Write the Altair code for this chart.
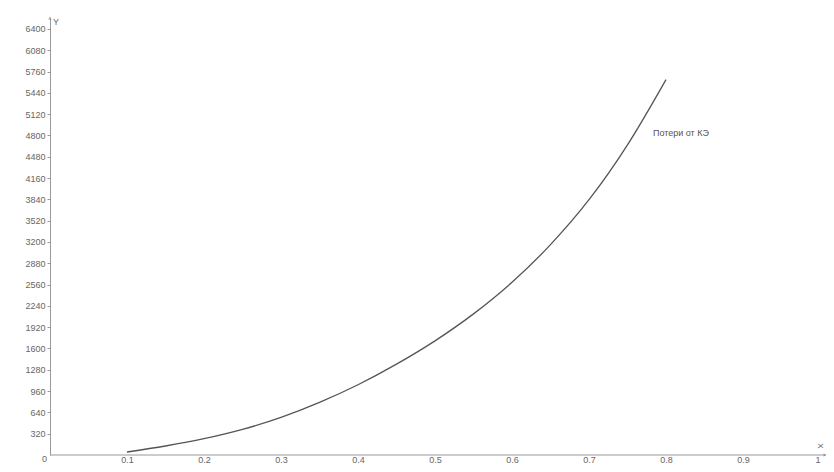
import altair as alt
import pandas as pd

# Curve: losses vs load factor
x_vals = [0.1, 0.15, 0.2, 0.25, 0.3, 0.35, 0.4, 0.45, 0.5, 0.55, 0.6, 0.65, 0.7, 0.75, 0.8]
y_vals = [45, 135, 245, 385, 565, 790, 1055, 1365, 1715, 2120, 2595, 3160, 3835, 4660, 5640]

x_ticks = [0.1, 0.2, 0.3, 0.4, 0.5, 0.6, 0.7, 0.8, 0.9, 1]
y_ticks = [320, 640, 960, 1280, 1600, 1920, 2240, 2560, 2880, 3200, 3520, 3840,
           4160, 4480, 4800, 5120, 5440, 5760, 6080, 6400]

series_label = "Потери от КЭ"
label_pos = {"x": [0.783], "y": [4840], "t": [series_label]}

curve = pd.DataFrame({"x": x_vals, "y": y_vals})

Y_TOP = 6565
X_DOM = [0, 1.0]
Y_DOM = [0, Y_TOP]
FONT = "Liberation Sans"
W, H = 770, 437

xs = alt.Scale(domain=X_DOM, nice=False, zero=False)
ys = alt.Scale(domain=Y_DOM, nice=False, zero=False)

x_axis = alt.Axis(values=x_ticks, title=None, grid=False, ticks=False,
                  domain=False, labelOverlap=False, labelBaseline="middle",
                  labelExpr="datum.value == 1 ? '1' : format(datum.value, '.1f')",
                  labelPadding=4)
y_axis = alt.Axis(values=y_ticks, title=None, grid=False, tickSize=3,
                  labelOverlap=False, format="d", labelPadding=2)

def X():
    return alt.X("x:Q", scale=xs, axis=x_axis)

def Y():
    return alt.Y("y:Q", scale=ys, axis=y_axis)

line = alt.Chart(curve).mark_line(color="#555555", strokeWidth=1.3,
                                  interpolate="monotone").encode(x=X(), y=Y())

# x axis line, extended a little past x = 1 (as in the reference)
xaxis_line = alt.Chart(pd.DataFrame({"y": [0]})).mark_rule(
    color="#999999", strokeWidth=1
).encode(x=alt.value(0), x2=alt.value(W + 6), y=Y())

lbl = alt.Chart(pd.DataFrame(label_pos)).mark_text(
    align="left", baseline="middle", fontSize=9, font=FONT, color="#555555"
).encode(x=X(), y=Y(), text="t:N")

origin = alt.Chart(pd.DataFrame({"x": [0], "y": [0], "t": ["0"]})).mark_text(
    align="right", baseline="middle", dx=-3, dy=4, fontSize=9, font=FONT, color="#666666"
).encode(x=X(), y=Y(), text="t:N")

ylab = alt.Chart(pd.DataFrame({"x": [0], "y": [Y_TOP], "t": ["Y"]})).mark_text(
    align="left", baseline="top", dx=3, dy=0, fontSize=9, font=FONT, color="#666666"
).encode(x=X(), y=Y(), text="t:N")

xlab = alt.Chart(pd.DataFrame({"t": ["X"]})).mark_text(
    align="center", baseline="middle", angle=90, fontSize=8, font=FONT,
    color="#666666"
).encode(x=alt.value(W), y=alt.value(H - 9), text="t:N")

arrow_y = alt.Chart(pd.DataFrame({"x": [0], "y": [Y_TOP]})).mark_point(
    shape="triangle-up", filled=True, size=12, color="#888888"
).encode(x=X(), y=Y())

arrow_x = alt.Chart(pd.DataFrame({"y": [0]})).mark_point(
    shape="triangle-right", filled=True, size=12, color="#888888"
).encode(x=alt.value(W + 5), y=Y())

chart = alt.layer(line, xaxis_line, lbl, origin, ylab, xlab, arrow_y, arrow_x).properties(
    width=W, height=H,
    autosize=alt.AutoSizeParams(type="none"),
    padding={"left": 42, "top": 10, "right": 6, "bottom": 9},
    background="white",
).configure_view(stroke=None).configure_axis(
    domainColor="#999999", tickColor="#999999", labelColor="#666666",
    labelFont=FONT, labelFontSize=9, domainWidth=1
)

chart.save("out.html", embed_options={"renderer": "svg", "actions": False})
